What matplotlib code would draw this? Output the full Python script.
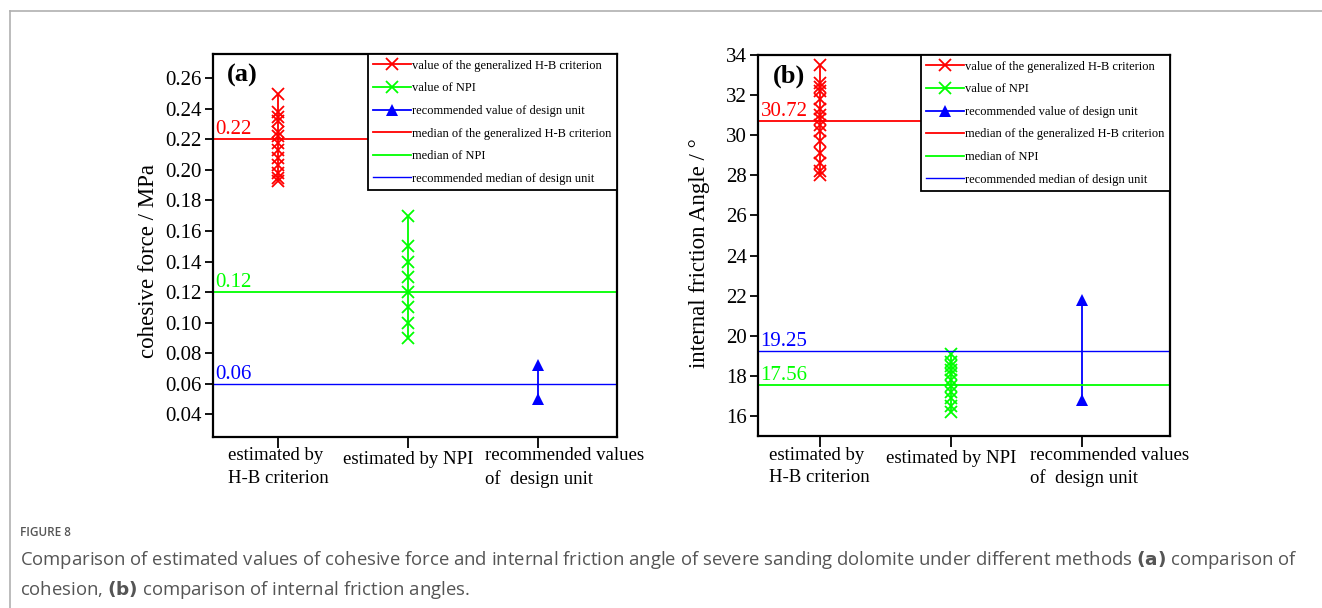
import matplotlib
matplotlib.use("Agg")
import matplotlib.pyplot as plt
from matplotlib.lines import Line2D
from matplotlib.transforms import ScaledTranslation, blended_transform_factory

# ---------------- data ----------------
categories = ["estimated by\nH-B criterion", "estimated by NPI", "recommended values\nof  design unit"]

# panel (a): cohesive force / MPa
coh_hb = [0.250, 0.238, 0.235, 0.232, 0.225, 0.222, 0.218, 0.213, 0.208, 0.203, 0.198, 0.195, 0.193]
coh_npi = [0.17, 0.15, 0.14, 0.13, 0.12, 0.11, 0.10, 0.09]
coh_design = [0.072, 0.050]
coh_medians = [0.22, 0.12, 0.06]
coh_median_labels = ["0.22", "0.12", "0.06"]
coh_ticks = [0.04, 0.06, 0.08, 0.10, 0.12, 0.14, 0.16, 0.18, 0.20, 0.22, 0.24, 0.26]

# panel (b): internal friction angle / degree
ang_hb = [33.5, 32.6, 32.4, 32.2, 31.8, 31.3, 31.0, 30.8, 30.5, 30.2, 29.7, 29.1, 28.6, 28.2, 28.0]
ang_npi = [19.1, 18.7, 18.5, 18.3, 18.1, 17.8, 17.5, 17.2, 16.9, 16.5, 16.2]
ang_design = [21.8, 16.8]
ang_medians = [30.72, 17.56, 19.25]
ang_median_labels = ["30.72", "17.56", "19.25"]
ang_ticks = [16, 18, 20, 22, 24, 26, 28, 30, 32, 34]

legend_labels = ["value of the generalized H-B criterion", "value of NPI",
                 "recommended value of design unit", "median of the generalized H-B criterion",
                 "median of NPI", "recommended median of design unit"]

caption_title = "FIGURE 8"
caption_line1 = ("Comparison of estimated values of cohesive force and internal friction angle of severe "
                 "sanding dolomite under different methods $\\bf{(a)}$ comparison of")
caption_line2 = "cohesion, $\\bf{(b)}$ comparison of internal friction angles."

RED, GREEN, BLUE = "#ff0000", "#00ff00", "#0000ff"
SERIF = "Liberation Serif"

W, H = 1322, 608
fig = plt.figure(figsize=(W / 100, H / 100), dpi=100)
fig.patch.set_facecolor("white")

# frame lines
fig.add_artist(Line2D([10 / W, 1.0], [1 - 11 / H, 1 - 11 / H], color="#b0b0b0", lw=1.2))
fig.add_artist(Line2D([10 / W, 10 / W], [1 - 11 / H, 0.0], color="#b0b0b0", lw=1.2))

# horizontal offsets (inches) of the category labels relative to their ticks
label_shift = [0.0, 0.0, 0.27]
label_drop = [0.105, 0.14, 0.105]


def make_panel(rect, hb, npi, design, medians, med_labels, ticks, ylim, xlim, ylabel, tag, fmt,
               ylab_x, ylab_y):
    ax = fig.add_axes(rect)
    x1 = [1] * len(hb)
    x2 = [2] * len(npi)
    x3 = [3] * len(design)
    h1, = ax.plot(x1, hb, color=RED, lw=1.3, marker="x", ms=8.5, mew=1.3)
    h2, = ax.plot(x2, npi, color=GREEN, lw=1.3, marker="x", ms=8.5, mew=1.3)
    h3, = ax.plot(x3, design, color=BLUE, lw=1.3, marker="^", ms=9, mew=0)
    h4 = ax.axhline(medians[0], color=RED, lw=1.3)
    h5 = ax.axhline(medians[1], color=GREEN, lw=1.3)
    h6 = ax.axhline(medians[2], color=BLUE, lw=1.0)
    for m, lab, c in zip(medians, med_labels, [RED, GREEN, BLUE]):
        ax.text(xlim[0] + 0.02, m, lab, color=c, fontsize=15, family=SERIF,
                va="bottom", ha="left")
    ax.set_xlim(*xlim)
    ax.set_ylim(*ylim)
    ax.set_yticks(ticks)
    ax.set_yticklabels([fmt(t) for t in ticks], family=SERIF, fontsize=15)
    ax.set_xticks([1, 2, 3])
    ax.set_xticklabels([])
    base = blended_transform_factory(ax.transData, ax.transAxes)
    for i, cat in enumerate(categories):
        tr = base + ScaledTranslation(label_shift[i], -label_drop[i], fig.dpi_scale_trans)
        ax.text(i + 1, 0, cat, transform=tr, family=SERIF, fontsize=13.5, ha="center",
                va="top", multialignment="left", linespacing=1.42)
    ax.tick_params(axis="both", direction="out", length=6, width=1.3)
    ax.tick_params(axis="x", length=8, pad=2)
    ax.tick_params(axis="y", pad=2)
    for s in ax.spines.values():
        s.set_linewidth(1.6)
    ax.set_ylabel(ylabel, family=SERIF, fontsize=16.5)
    ax.yaxis.set_label_coords(ylab_x, ylab_y)
    ax.text(0.035, 0.975, tag, transform=ax.transAxes, family=SERIF, fontsize=19,
            fontweight="bold", va="top", ha="left")
    leg = ax.legend([h1, h2, h3, h4, h5, h6], legend_labels, loc="upper right",
                    prop={"family": SERIF, "size": 9}, frameon=True, fancybox=False,
                    borderaxespad=0, handlelength=3.0, handletextpad=0.1,
                    labelspacing=0.85, borderpad=0.45, framealpha=1)
    leg.get_frame().set_edgecolor("black")
    leg.get_frame().set_linewidth(1.3)
    return ax


make_panel([213 / W, 1 - 437 / H, (617 - 213) / W, (437 - 54) / H],
           coh_hb, coh_npi, coh_design, coh_medians, coh_median_labels, coh_ticks,
           (0.025, 0.276), (0.5, 3.61), "cohesive force / MPa", "(a)",
           lambda t: f"{t:.2f}", -0.133, 0.46)
make_panel([758 / W, 1 - 436 / H, (1170 - 758) / W, (436 - 55) / H],
           ang_hb, ang_npi, ang_design, ang_medians, ang_median_labels, ang_ticks,
           (15, 34), (0.53, 3.67), "internal friction Angle / °", "(b)",
           lambda t: f"{t:d}", -0.117, 0.48)

fig.text(20 / W, 1 - 533 / H, caption_title, family="Open Sans", fontsize=8.5,
         fontweight="semibold", color="#555555", va="center", ha="left")
fig.text(20 / W, 1 - 560 / H, caption_line1, family="Open Sans", fontsize=13.3,
         color="#555555", va="center", ha="left")
fig.text(20 / W, 1 - 590 / H, caption_line2, family="Open Sans", fontsize=13.3,
         color="#555555", va="center", ha="left")

fig.savefig("out.png", dpi=100)
